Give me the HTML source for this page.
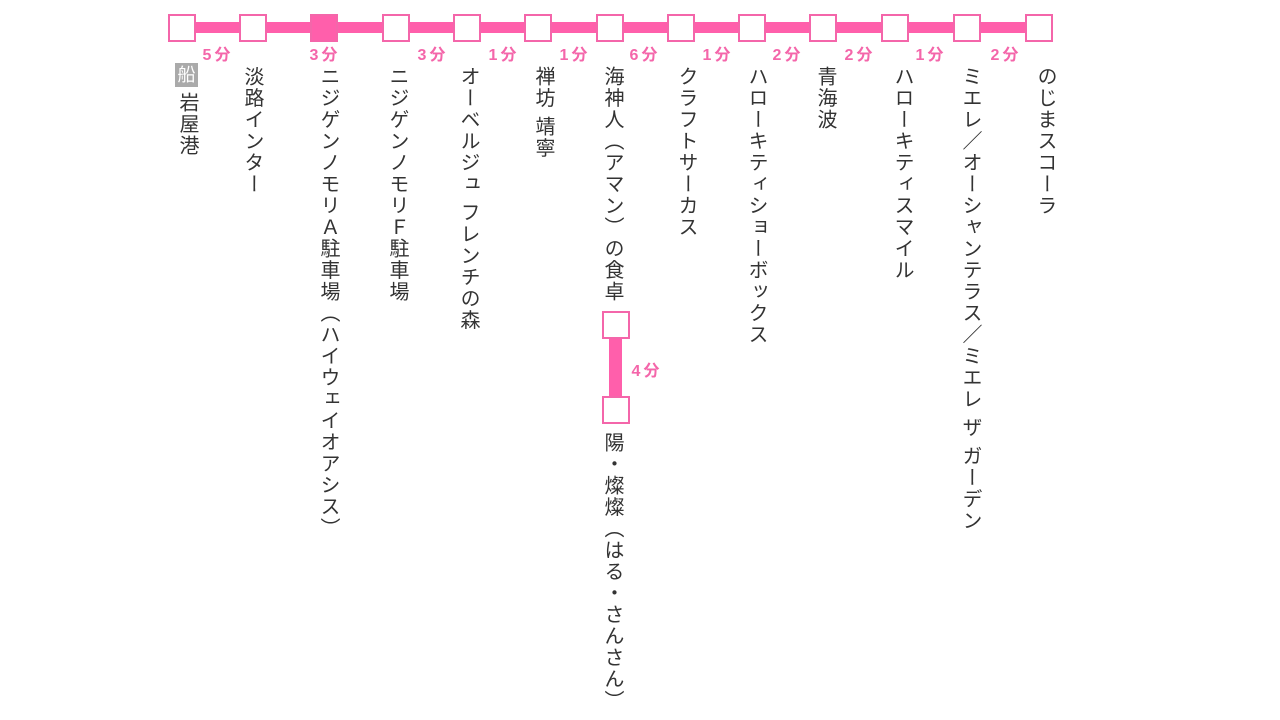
<!DOCTYPE html>
<html><head><meta charset="utf-8"><style>
body{margin:0;width:1280px;height:720px;background:#fff;position:relative;overflow:hidden;font-family:"Liberation Sans","Noto Sans CJK JP",sans-serif}
.sq{position:absolute;width:24px;height:24px;border:2px solid #f466aa;background:#fff;box-sizing:content-box}
.v{position:absolute;writing-mode:vertical-rl;font-size:20px;color:#333;letter-spacing:1.5px;line-height:24px;width:24px;white-space:nowrap}
.m{position:absolute;top:41px;font-size:16px;font-weight:bold;color:#f466aa;letter-spacing:3px;white-space:nowrap;transform:translateX(-50%)}
</style></head><body>
<div style="position:absolute;left:181px;top:22px;width:857px;height:11px;background:#ff5fab"></div>
<div style="position:absolute;left:609px;top:337px;width:13px;height:61px;background:#ff5fab"></div>
<div class="sq" style="left:168px;top:14px"></div>
<div class="sq" style="left:239px;top:14px"></div>
<div class="sq" style="left:310px;top:14px;background:#ff5fab"></div>
<div class="sq" style="left:382px;top:14px"></div>
<div class="sq" style="left:453px;top:14px"></div>
<div class="sq" style="left:524px;top:14px"></div>
<div class="sq" style="left:596px;top:14px"></div>
<div class="sq" style="left:667px;top:14px"></div>
<div class="sq" style="left:738px;top:14px"></div>
<div class="sq" style="left:809px;top:14px"></div>
<div class="sq" style="left:881px;top:14px"></div>
<div class="sq" style="left:953px;top:14px"></div>
<div class="sq" style="left:1025px;top:14px"></div>
<div class="sq" style="left:602px;top:311px"></div>
<div class="sq" style="left:602px;top:396px"></div>
<div class="m" style="left:218px">5分</div>
<div class="m" style="left:325px">3分</div>
<div class="m" style="left:433px">3分</div>
<div class="m" style="left:504px">1分</div>
<div class="m" style="left:575px">1分</div>
<div class="m" style="left:645px">6分</div>
<div class="m" style="left:718px">1分</div>
<div class="m" style="left:788px">2分</div>
<div class="m" style="left:860px">2分</div>
<div class="m" style="left:931px">1分</div>
<div class="m" style="left:1006px">2分</div>
<div class="m" style="left:647px;top:357px">4分</div>
<div style="position:absolute;left:175px;top:63px;width:23px;height:24px;background:#aaa;color:#fff;font-size:18px;line-height:24px;text-align:center">船</div>
<div class="v" style="left:175px;top:92px">岩屋港</div>
<div class="v" style="left:240px;top:66px">淡路インター</div>
<div class="v" style="left:316px;top:66px">ニジゲンノモリＡ駐車場（ハイウェイオアシス）</div>
<div class="v" style="left:385px;top:66px">ニジゲンノモリＦ駐車場</div>
<div class="v" style="left:456px;top:66px">オーベルジュ フレンチの森</div>
<div class="v" style="left:531px;top:66px">禅坊 靖寧</div>
<div class="v" style="left:600px;top:66px">海神人（アマン）の食卓</div>
<div class="v" style="left:674px;top:66px">クラフトサーカス</div>
<div class="v" style="left:744px;top:66px">ハローキティショーボックス</div>
<div class="v" style="left:813px;top:66px">青海波</div>
<div class="v" style="left:890px;top:66px">ハローキティスマイル</div>
<div class="v" style="left:958px;top:66px">ミエレ／オーシャンテラス／ミエレ ザ ガーデン</div>
<div class="v" style="left:1033px;top:66px">のじまスコーラ</div>
<div class="v" style="left:600px;top:432px">陽・燦燦（はる・さんさん）</div>
</body></html>
